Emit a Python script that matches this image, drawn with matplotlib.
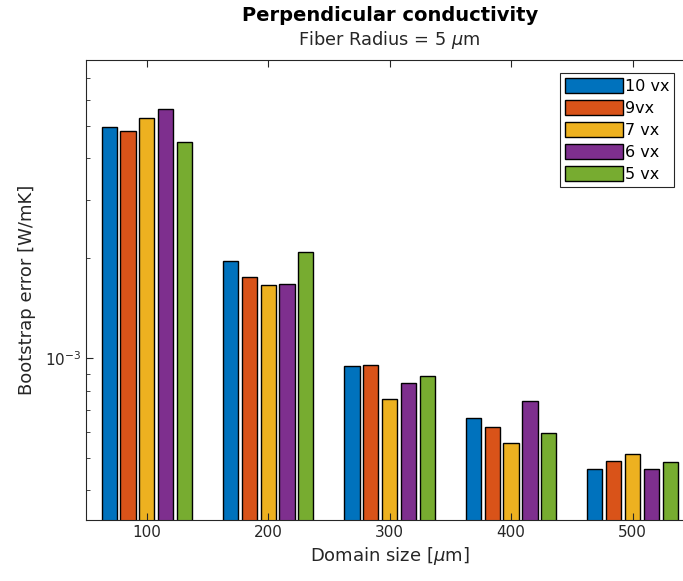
import numpy as np
import matplotlib
matplotlib.use("Agg")
import matplotlib.pyplot as plt
from matplotlib.ticker import LogLocator, NullFormatter

# Domain sizes (um) and bootstrap errors per voxel resolution
domain = [100, 200, 300, 400, 500]
labels = ['10 vx', '9vx', '7 vx', '6 vx', '5 vx']
err_10vx = [4.99e-3, 1.97e-3, 0.948e-3, 0.662e-3, 0.464e-3]
err_9vx = [4.85e-3, 1.76e-3, 0.957e-3, 0.620e-3, 0.491e-3]
err_7vx = [5.28e-3, 1.66e-3, 0.752e-3, 0.557e-3, 0.515e-3]
err_6vx = [5.65e-3, 1.68e-3, 0.844e-3, 0.745e-3, 0.464e-3]
err_5vx = [4.48e-3, 2.09e-3, 0.886e-3, 0.596e-3, 0.486e-3]

series = [err_10vx, err_9vx, err_7vx, err_6vx, err_5vx]
colors = ['#0072BD', '#D95319', '#EDB120', '#7E2F8E', '#77AC30']
axcol = '#262626'

fig = plt.figure(figsize=(6.83, 5.81), dpi=100)
ax = fig.add_axes([0.126, 0.105, 0.889, 0.791])

x = np.array(domain, dtype=float)
pitch = 15.5
width = 12.5
for i, (vals, c, lab) in enumerate(zip(series, colors, labels)):
    ax.bar(x + (i - 2) * pitch, vals, width=width, color=c, edgecolor='black',
           linewidth=1.0, label=lab, zorder=2)

ax.set_yscale('log')
ax.set_ylim(3.26e-4, 7.89e-3)
ax.set_xlim(50, 550)
ax.set_xticks(domain)
ax.yaxis.set_major_locator(LogLocator(base=10, subs=(1.0,)))
ax.yaxis.set_minor_locator(LogLocator(base=10, subs=np.arange(2, 10)))
ax.yaxis.set_minor_formatter(NullFormatter())

ax.set_axisbelow(False)
ax.tick_params(which='both', direction='in', top=True, right=True,
               colors=axcol, labelsize=11, labelcolor=axcol)
ax.tick_params(which='major', length=5)
ax.tick_params(which='minor', length=3)
for sp in ax.spines.values():
    sp.set_color(axcol)
    sp.set_linewidth(0.8)

ax.set_xlabel(r'Domain size [$\mu$m]', fontsize=13, color=axcol)
ax.set_ylabel('Bootstrap error [W/mK]', fontsize=13, color=axcol, labelpad=6)
fig.text(0.5 * (0.126 + 1.015), 0.9644, 'Perpendicular conductivity',
         ha='center', va='baseline', fontsize=14, fontweight='bold', color='black')
fig.text(0.5 * (0.126 + 1.015), 0.9225, r'Fiber Radius = 5 $\mu$m',
         ha='center', va='baseline', fontsize=12.8, color=axcol)

leg = ax.legend(loc='upper left', bbox_to_anchor=(0.781, 0.973), fontsize=11.5,
                handlelength=3.6, handleheight=1.06, handletextpad=0.12,
                labelspacing=0.38, borderpad=0.32, fancybox=False,
                framealpha=1, edgecolor=axcol, borderaxespad=0)
leg.get_frame().set_linewidth(0.8)

fig.savefig('out.png', dpi=100)
